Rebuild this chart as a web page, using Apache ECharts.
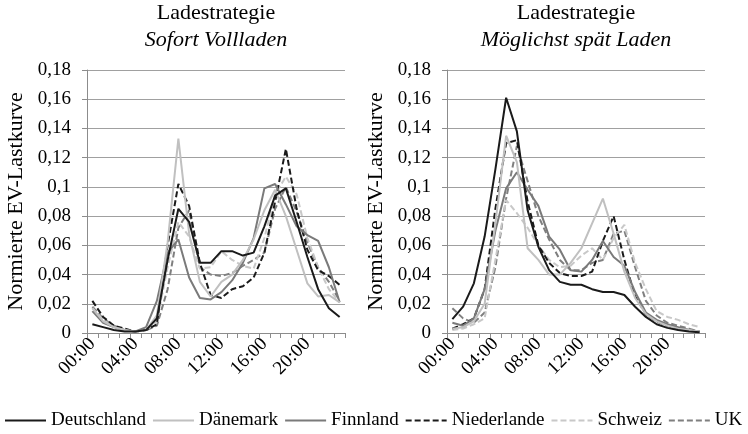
<!DOCTYPE html>
<html>
<head>
<meta charset="utf-8">
<script src="https://cdn.jsdelivr.net/npm/echarts@6/dist/echarts.min.js"></script>
<style>html,body{margin:0;padding:0;background:#fff}#c{width:748px;height:434px}</style>
</head>
<body>
<div id="c"></div>
<script>
const hours = ["00:00","01:00","02:00","03:00","04:00","05:00","06:00","07:00","08:00","09:00","10:00","11:00","12:00","13:00","14:00","15:00","16:00","17:00","18:00","19:00","20:00","21:00","22:00","23:00"];
const countries = ["Deutschland","Dänemark","Finnland","Niederlande","Schweiz","UK"];
const panelTitles = ["Sofort Vollladen","Möglichst spät Laden"];
const yName = "Normierte EV-Lastkurve";

// Sofort Vollladen
const sofortDE = [0.006,0.004,0.002,0.001,0.001,0.002,0.010,0.050,0.085,0.076,0.048,0.048,0.056,0.056,0.053,0.055,0.073,0.094,0.099,0.076,0.052,0.030,0.017,0.011];
const sofortDK = [0.017,0.008,0.004,0.002,0.001,0.002,0.012,0.062,0.133,0.068,0.035,0.025,0.035,0.040,0.050,0.064,0.084,0.098,0.080,0.057,0.034,0.025,0.026,0.021];
const sofortFI = [0.015,0.007,0.004,0.002,0.001,0.004,0.022,0.055,0.064,0.038,0.024,0.023,0.028,0.036,0.048,0.065,0.099,0.102,0.088,0.073,0.067,0.063,0.045,0.021];
const sofortNL = [0.022,0.011,0.005,0.003,0.001,0.002,0.006,0.060,0.102,0.087,0.048,0.026,0.024,0.030,0.032,0.038,0.055,0.090,0.126,0.085,0.057,0.043,0.039,0.033];
const sofortCH = [0.017,0.009,0.004,0.002,0.001,0.002,0.008,0.045,0.076,0.066,0.044,0.045,0.056,0.050,0.046,0.044,0.065,0.095,0.107,0.095,0.065,0.045,0.030,0.021];
const sofortUK = [0.018,0.010,0.005,0.002,0.001,0.002,0.005,0.030,0.072,0.084,0.045,0.040,0.039,0.041,0.046,0.050,0.055,0.085,0.100,0.083,0.062,0.045,0.035,0.022];

// Möglichst spät Laden
const spaetDE = [0.0095,0.018,0.034,0.066,0.112,0.161,0.138,0.084,0.059,0.043,0.035,0.033,0.033,0.030,0.028,0.028,0.026,0.018,0.011,0.006,0.0035,0.002,0.001,0.0005];
const spaetDK = [0.003,0.004,0.008,0.020,0.075,0.135,0.117,0.058,0.050,0.040,0.040,0.048,0.058,0.075,0.092,0.068,0.042,0.024,0.013,0.008,0.005,0.003,0.002,0.001];
const spaetFI = [0.007,0.005,0.010,0.030,0.070,0.099,0.110,0.098,0.087,0.066,0.057,0.043,0.042,0.050,0.063,0.052,0.046,0.028,0.014,0.009,0.006,0.004,0.002,0.001];
const spaetNL = [0.003,0.006,0.010,0.030,0.085,0.130,0.132,0.090,0.060,0.048,0.041,0.039,0.039,0.042,0.063,0.080,0.050,0.025,0.013,0.008,0.005,0.003,0.002,0.001];
const spaetCH = [0.002,0.003,0.006,0.010,0.050,0.091,0.082,0.072,0.060,0.050,0.045,0.046,0.053,0.058,0.050,0.065,0.074,0.048,0.030,0.015,0.011,0.009,0.006,0.004];
const spaetUK = [0.017,0.010,0.007,0.014,0.045,0.092,0.128,0.104,0.080,0.064,0.050,0.043,0.043,0.048,0.050,0.068,0.070,0.045,0.022,0.012,0.007,0.005,0.003,0.001];

const sofortData = [sofortDE,sofortDK,sofortFI,sofortNL,sofortCH,sofortUK];
const spaetData = [spaetDE,spaetDK,spaetFI,spaetNL,spaetCH,spaetUK];

const FONT = "Liberation Serif";
const styles = [
  {color:'#1a1a1a', type:'solid'},
  {color:'#c0c0c0', type:'solid'},
  {color:'#7a7a7a', type:'solid'},
  {color:'#1a1a1a', type:[6,3]},
  {color:'#c8c8c8', type:[6,3]},
  {color:'#7f7f7f', type:[6,3]}
];

function fmt(v){ return String(Math.round(v*100)/100).replace('.', ','); }

function xAx(gi){
  return {
    type:'category', gridIndex:gi, data:hours, boundaryGap:true,
    axisLine:{lineStyle:{color:'#8c8c8c', width:1}},
    axisTick:{show:true, interval:0, length:5, lineStyle:{color:'#8c8c8c'}},
    axisLabel:{interval:3, rotate:45, margin:8, fontFamily:FONT, fontSize:19, color:'#000'},
    splitLine:{show:false}
  };
}
function yAx(gi){
  return {
    type:'value', gridIndex:gi, min:0, max:0.18, interval:0.02,
    name:yName, nameLocation:'middle', nameGap:60, nameRotate:90,
    nameTextStyle:{fontFamily:FONT, fontSize:22, color:'#000'},
    axisLine:{show:true, lineStyle:{color:'#8c8c8c', width:1}},
    axisTick:{show:true, length:5, lineStyle:{color:'#8c8c8c'}},
    axisLabel:{formatter:fmt, margin:16, fontFamily:FONT, fontSize:19, color:'#000'},
    splitLine:{show:true, lineStyle:{color:'#a0a0a0', width:1}}
  };
}

const series = [];
[sofortData, spaetData].forEach((set, gi) => {
  set.forEach((d, k) => {
    series.push({
      name: countries[k], type:'line', xAxisIndex:gi, yAxisIndex:gi,
      data:d, symbol:'none', smooth:false, animation:false,
      lineStyle:{color:styles[k].color, type:styles[k].type, width:2},
      itemStyle:{color:styles[k].color},
      z: k === 0 ? 6 : 2 + (6-k)/10
    });
  });
});

const chart = echarts.init(document.getElementById('c'), null, {renderer:'canvas'});
chart.setOption({
  backgroundColor:'#fff',
  animation:false,
  title:[0,1].map(i => ({
    text:'Ladestrategie\n{i|' + panelTitles[i] + '}',
    left: i === 0 ? 216 : 576, top:0, textAlign:'center', padding:0,
    textStyle:{fontFamily:FONT, fontSize:22, fontWeight:'normal', color:'#000', lineHeight:27,
      rich:{i:{fontFamily:FONT, fontSize:22, fontStyle:'italic', color:'#000', lineHeight:27}}}
  })),
  legend:{
    data:countries, left:4, top:411, padding:0, itemWidth:41, itemHeight:12, itemGap:6,
    itemStyle:{opacity:0},
    textStyle:{fontFamily:FONT, fontSize:19, color:'#000'}
  },
  grid:[
    {left:87, width:258, top:70, bottom:101},
    {left:447, width:258, top:70, bottom:101}
  ],
  xAxis:[xAx(0), xAx(1)],
  yAxis:[yAx(0), yAx(1)],
  series:series
});
</script>
</body>
</html>
